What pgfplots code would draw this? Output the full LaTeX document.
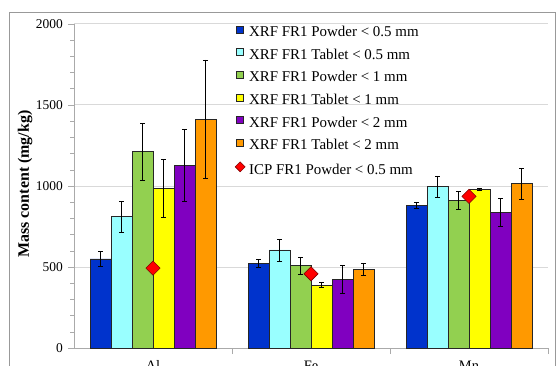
\documentclass[border=0pt]{standalone}
\usepackage{pgfplots}
\pgfplotsset{compat=1.18}
\usepackage{pgfplotstable}
\usepackage{fontspec}
\setmainfont{Liberation Serif}

\definecolor{cBlue}{RGB}{0,51,204}
\definecolor{cCyan}{RGB}{153,255,255}
\definecolor{cGreen}{RGB}{146,208,80}
\definecolor{cYellow}{RGB}{255,255,0}
\definecolor{cPurple}{RGB}{128,0,192}
\definecolor{cOrange}{RGB}{255,153,0}
\definecolor{gridc}{RGB}{217,217,217}
\definecolor{axc}{RGB}{170,170,170}

\pgfplotstableread{
x b be c ce g ge y ye p pe o oe icp
0 550 47 810 97 1212 176 985 180 1125 222 1413 365 493
1 522 26 605 68 507 52 388 15 425 87 484 37 458
2 879 19 997 65 911 55 981 5 836 85 1014 95 936
}\data

\pgfplotsset{
  mybar/.style={ybar, bar width=21bp, bar shift=0pt, fill=#1, draw=black!85, line width=0.8bp,
    /pgfplots/error bars/y dir=both,
    /pgfplots/error bars/y explicit,
    /pgfplots/error bars/error bar style={black, line width=0.7bp},
    /pgfplots/error bars/error mark options={rotate=90, black, mark size=2.5bp, line width=0.7bp},
    legend image code/.code={\draw[##1, line width=0.6bp] (0bp,0bp) rectangle (7bp,7bp);}},
  diamondlegend/.style={legend image code/.code={\draw[##1, mark size=3.5bp] plot coordinates {(3.5bp,4.5bp)};}},
}

\begin{document}
\begin{tikzpicture}[x=1bp,y=1bp]
\begin{axis}[
  at={(74bp,17bp)}, anchor=south west,
  scale only axis, width=474bp, height=324bp,
  xmin=-0.5, xmax=2.5, ymin=0, ymax=2000,
  xtick={0.5,1.5,2.5}, xticklabels={},
  extra x ticks={0,1,2}, extra x tick labels={Al,Fe,Mn},
  extra x tick style={xtick style={draw=none}},
  ytick={0,500,1000,1500,2000}, minor y tick num=4,
  ymajorgrids, grid style={draw=gridc, line width=1bp},
  axis x line*=bottom, axis y line*=left,
  axis line style={draw=axc, line width=0.8bp, -},
  tick align=outside, major tick length=6bp, minor tick length=4bp,
  xtick style={draw=axc, line width=0.7bp},
  ytick style={draw=axc, line width=0.6bp},
  minor tick style={draw=axc, line width=0.5bp},
  /pgf/number format/assume math mode=true,
  /pgf/number format/1000 sep={},
  yticklabel style={font=\fontsize{13.5}{16}\selectfont, inner sep=0pt, xshift=-5bp},
  xticklabel style={font=\fontsize{14.5}{17}\selectfont, inner sep=0pt, text height=10bp, yshift=-6bp},
  ylabel={Mass content (mg/kg)},
  ylabel style={font=\bfseries\fontsize{16}{19}\selectfont, at={(axis description cs:-0.1034,0.506)}, anchor=center},
  legend style={at={(axis description cs:0.3397,0.9954)}, anchor=north west, draw=none, fill=none,
    font=\fontsize{15}{17}\selectfont, row sep=8.4bp, column sep=4bp, inner sep=0pt,
    nodes={inner sep=0pt, text height=10.5bp, text depth=3.5bp}},
  legend cell align=left,
]
% bar offsets: 21bp per bar, 158bp per category -> 0.13291 units per bar
\addplot[mybar=cBlue] table[x expr=\thisrow{x}-0.33228, y=b, y error=be] {\data};
\addlegendentry{XRF FR1 Powder < 0.5 mm}
\addplot[mybar=cCyan] table[x expr=\thisrow{x}-0.19937, y=c, y error=ce] {\data};
\addlegendentry{XRF FR1 Tablet < 0.5 mm}
\addplot[mybar=cGreen] table[x expr=\thisrow{x}-0.06646, y=g, y error=ge] {\data};
\addlegendentry{XRF FR1 Powder < 1 mm}
\addplot[mybar=cYellow] table[x expr=\thisrow{x}+0.06646, y=y, y error=ye] {\data};
\addlegendentry{XRF FR1 Tablet < 1 mm}
\addplot[mybar=cPurple] table[x expr=\thisrow{x}+0.19937, y=p, y error=pe] {\data};
\addlegendentry{XRF FR1 Powder < 2 mm}
\addplot[mybar=cOrange] table[x expr=\thisrow{x}+0.33228, y=o, y error=oe] {\data};
\addlegendentry{XRF FR1 Tablet < 2 mm}
\addplot[only marks, mark=square*, mark size=5bp,
  mark options={rotate=45, fill=red, draw=red!50!black, line width=0.6bp},
  diamondlegend]
  table[x=x, y=icp] {\data};
\addlegendentry{ICP FR1 Powder < 0.5 mm}
\end{axis}
\draw[color=black!40, line width=0.8bp] (9,-20) -- (9,352.3) -- (555,352.3) -- (555,-20);
\pgfresetboundingbox
\useasboundingbox (0,0) rectangle (557,365);
\end{tikzpicture}
\end{document}
